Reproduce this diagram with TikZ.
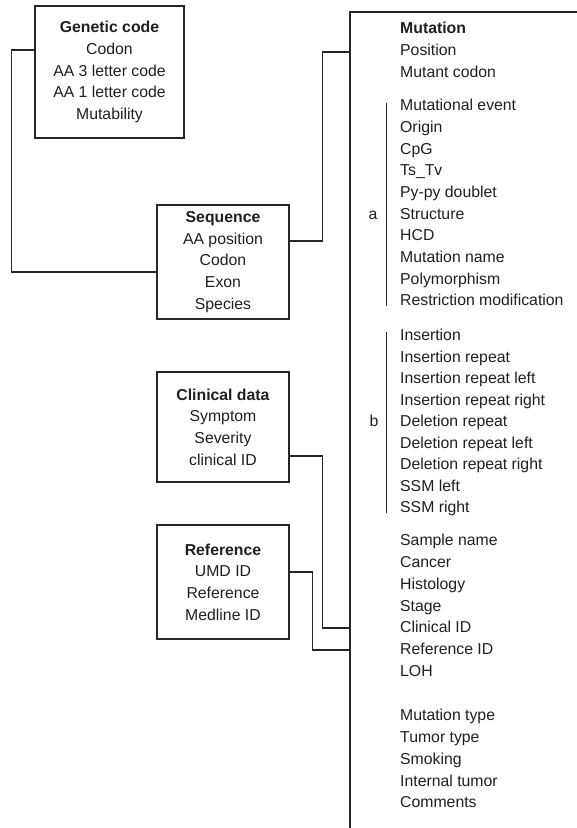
\documentclass[tikz,border=0pt]{standalone}
\usepackage{fontspec}
\setmainfont{Liberation Sans}
\newcommand\fsz{\fontsize{15.8pt}{21.7pt}\selectfont}
\begin{document}
\begin{tikzpicture}[x=1pt,y=-1pt,
  ln/.style={line width=1.1pt, draw=black!85},
  box/.style={ln, rectangle, inner sep=0pt, align=center, font=\fsz, text=black!88},
  item/.style={anchor=west, inner sep=0pt, text height=11.3pt, text depth=0pt, font=\fsz, text=black!88},
  br/.style={line width=1pt, draw=black!85}]
\useasboundingbox (0,0) rectangle (577,828);

% boxes
\node[box, minimum width=149pt, minimum height=132pt] (gen) at (109.5,72)
  {\textbf{Genetic code}\\Codon\\AA 3 letter code\\AA 1 letter code\\Mutability};
\node[box, minimum width=132pt, minimum height=114pt] (seq) at (223,262)
  {\textbf{Sequence}\\AA position\\Codon\\Exon\\Species};
\node[box, minimum width=132pt, minimum height=110pt] (cli) at (223,427)
  {\textbf{Clinical data}\\Symptom\\Severity\\clinical ID};
\node[box, minimum width=132pt, minimum height=114pt] (ref) at (223,582)
  {\textbf{Reference}\\UMD ID\\Reference\\Medline ID};

% mutation open box
\coordinate (mtl) at (350,12);
\coordinate (mbl) at (350,828);
\coordinate (mtr) at (577,12);
\coordinate (mseq) at (350,52);
\coordinate (mcli) at (350,628);
\coordinate (mref) at (350,650);
\draw[ln] (mbl) -- (mtl) -- (mtr);

% connectors
\draw[ln] ([yshift=22pt]gen.west) -- ++(-23,0) |- ([yshift=-10pt]seq.west);
\draw[ln] ([yshift=21pt]seq.east) -- ++(33,0) |- (mseq);
\draw[ln] ([yshift=-29pt]cli.east) -- ++(33,0) |- (mcli);
\draw[ln] ([yshift=10pt]ref.east) -- ++(23,0) |- (mref);

% mutation fields
\node[item] (m1) at (400,28) {\textbf{Mutation}};
\node[item] (m2) at (400,50) {Position};
\node[item] (m3) at (400,72) {Mutant codon};

\foreach \t [count=\i] in {Mutational event, Origin, CpG, Ts\_Tv, Py-py doublet, Structure, HCD, Mutation name, Polymorphism, Restriction modification}
  \node[item] (a\i) at (400,105+21.7*\i-21.7) {\t};

\foreach \t [count=\i] in {Insertion, Insertion repeat, Insertion repeat left, Insertion repeat right, Deletion repeat, Deletion repeat left, Deletion repeat right, SSM left, SSM right}
  \node[item] (b\i) at (400,335+21.5*\i-21.5) {\t};

\foreach \t [count=\i] in {Sample name, Cancer, Histology, Stage, Clinical ID, Reference ID, LOH}
  \node[item] (c\i) at (400,540+21.8*\i-21.8) {\t};

\foreach \t [count=\i] in {Mutation type, Tumor type, Smoking, Internal tumor, Comments}
  \node[item] (d\i) at (400,715+21.8*\i-21.8) {\t};

% brackets
\draw[br] ([xshift=-14pt,yshift=-4pt]a1.north west) -- ([xshift=-14pt]a10.south west);
\node[item, anchor=center] (la) at ([xshift=-27pt]a6.west) {a};
\draw[br] ([xshift=-14pt,yshift=-3pt]b1.north west) -- ([xshift=-14pt]b9.south west);
\node[item, anchor=center] (lb) at ([xshift=-26pt]b5.west) {b};
\end{tikzpicture}
\end{document}
